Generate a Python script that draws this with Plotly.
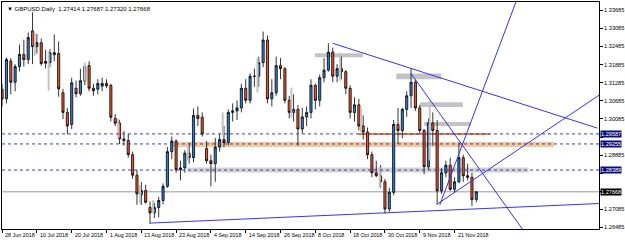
import plotly.graph_objects as go
import pandas as pd

dates = pd.bdate_range("2018-06-28", "2018-11-28")

opens = [1.3107,1.3075,1.3200,1.3130,1.3182,1.3222,1.3205,1.3300,1.3248,1.3261,
         1.3199,1.3195,1.3221,1.3225,1.3095,1.3030,1.2990,1.3110,1.3092,1.3135,
         1.3185,1.3110,1.3107,1.3117,1.3126,1.3120,1.3010,1.2995,1.2942,1.2937,
         1.2890,1.2822,1.2757,1.2771,1.2715,1.2697,1.2715,1.2738,1.2785,1.2900,
         1.2935,1.2840,1.2846,1.2895,1.2880,1.3020,1.3014,1.2910,1.2870,1.2860,
         1.2915,1.2940,1.2930,1.3030,1.3035,1.3045,1.3110,1.3070,1.3150,1.3150,
         1.3195,1.3270,1.3075,1.3095,1.3185,1.3175,1.3070,1.3030,1.3040,1.2975,
         1.3015,1.3030,1.3120,1.3070,1.3145,1.3170,1.3230,1.3150,1.3175,1.3165,
         1.3110,1.3030,1.3055,1.2985,1.2965,1.2890,1.2830,1.2820,1.2800,1.2710,
         1.2765,1.2990,1.2970,1.3040,1.3085,1.3130,1.3045,1.2970,1.2850,1.2995,
         1.2970,1.2770,1.2830,1.2855,1.2775,1.2800,1.2880,1.2820,1.2815,1.27414]
highs = [1.3125,1.3212,1.3210,1.3190,1.3255,1.3271,1.3295,1.3362,1.3290,1.3275,
         1.3238,1.3240,1.3288,1.3265,1.3108,1.3045,1.3145,1.3135,1.3175,1.3190,
         1.3200,1.3125,1.3140,1.3145,1.3140,1.3125,1.3025,1.3005,1.2968,1.2960,
         1.2900,1.2840,1.2800,1.2790,1.2735,1.2730,1.2750,1.2795,1.2915,1.2950,
         1.2940,1.2870,1.2905,1.2930,1.3043,1.3050,1.3030,1.2935,1.2890,1.2945,
         1.2960,1.2985,1.3040,1.3060,1.3070,1.3125,1.3140,1.3160,1.3175,1.3215,
         1.3298,1.3285,1.3140,1.3215,1.3210,1.3180,1.3085,1.3090,1.3055,1.3045,
         1.3050,1.3140,1.3125,1.3155,1.3210,1.3259,1.3245,1.3190,1.3215,1.3170,
         1.3120,1.3080,1.3075,1.3020,1.2980,1.2900,1.2870,1.2855,1.2810,1.2780,
         1.3005,1.3045,1.3045,1.3100,1.3175,1.3140,1.3055,1.2975,1.3010,1.3030,
         1.3005,1.2845,1.2870,1.2880,1.2815,1.2930,1.2890,1.2860,1.2830,1.27687]
lows = [1.3050,1.3060,1.3090,1.3100,1.3166,1.3182,1.3190,1.3190,1.3225,1.3185,
        1.3176,1.3180,1.3200,1.3082,1.3008,1.2957,1.2975,1.3080,1.3085,1.3120,
        1.3100,1.3085,1.3090,1.3100,1.3110,1.3000,1.2985,1.2925,1.2920,1.2880,
        1.2810,1.2724,1.2723,1.2728,1.2662,1.2680,1.2682,1.2725,1.2780,1.2875,
        1.2830,1.2805,1.2830,1.2860,1.2865,1.2985,1.2950,1.2860,1.2785,1.2800,
        1.2900,1.2915,1.2920,1.3000,1.3005,1.3030,1.3060,1.3060,1.3115,1.3115,
        1.3180,1.3060,1.3050,1.3085,1.3140,1.3060,1.3010,1.3000,1.2920,1.2960,
        1.2985,1.3010,1.3040,1.3050,1.3130,1.3165,1.3130,1.3130,1.3140,1.3090,
        1.3010,1.3000,1.2970,1.2940,1.2875,1.2815,1.2815,1.2780,1.2695,1.2700,
        1.2755,1.2925,1.2945,1.3015,1.3045,1.3035,1.2960,1.2825,1.2840,1.2920,
        1.2723,1.2760,1.2815,1.2770,1.2765,1.2795,1.2800,1.2805,1.2720,1.27320]
closes = [1.3075,1.3205,1.3130,1.3182,1.3222,1.3205,1.3278,1.3248,1.3261,1.3192,
          1.3193,1.3228,1.3228,1.3108,1.3030,1.2985,1.3128,1.3092,1.3135,1.3182,
          1.3110,1.3102,1.3126,1.3126,1.3118,1.3014,1.2994,1.2942,1.2937,1.2890,
          1.2822,1.2760,1.2771,1.2732,1.2697,1.2715,1.2738,1.2785,1.2900,1.2935,
          1.2840,1.2846,1.2895,1.2880,1.3020,1.3010,1.2958,1.2870,1.2860,1.2915,
          1.2940,1.2930,1.3030,1.3035,1.3045,1.3110,1.3070,1.3150,1.3150,1.3195,
          1.3270,1.3075,1.3095,1.3185,1.3175,1.3070,1.3030,1.3040,1.2975,1.3015,
          1.3030,1.3120,1.3070,1.3145,1.3170,1.3230,1.3150,1.3175,1.3165,1.3110,
          1.3030,1.3055,1.2985,1.2965,1.2890,1.2830,1.2820,1.2800,1.2710,1.2765,
          1.2990,1.2970,1.3040,1.3085,1.3130,1.3045,1.2970,1.2850,1.2995,1.2970,
          1.2770,1.2830,1.2855,1.2775,1.2800,1.2880,1.2820,1.2815,1.2741,1.27668]

# light-grey overlay bars: (bar, low, high)
ghost_bar = [7.8, 11.0, 19.3, 27.0, 32.0, 35.0, 43.0, 51.0, 59.0, 66.8, 78.0, 82.8, 87.1, 98.6]
ghost_low = [1.3218, 1.3102, 1.3135, 1.2944, 1.2729, 1.2696, 1.2871, 1.2954, 1.3096,
             1.3013, 1.3135, 1.2964, 1.2782, 1.2871]
ghost_high = [1.3294, 1.3234, 1.3195, 1.3010, 1.2789, 1.2739, 1.2927, 1.3030, 1.3211,
              1.3112, 1.3228, 1.3043, 1.2848, 1.3069]

header = "\u25BC GBPUSD.Daily  1.27414 1.27687 1.27320 1.27668"
date_label_bars = [0, 8, 16, 24, 32, 40, 48, 56, 64, 72, 80, 88, 96, 104]
price_ticks = [1.26485, 1.27085, 1.27685, 1.28285, 1.28885, 1.29485, 1.30085,
               1.30685, 1.31285, 1.31885, 1.32485, 1.33085, 1.33685]
hidden_ticks = [1.27685, 1.28285, 1.29485]   # covered by the level boxes

levels = [1.29587, 1.29255, 1.28389]
current_price = 1.27668

zones = [
    (38.9, 126.9, 1.29155, 1.29320, "rgba(240,170,100,0.65)"),
    (81.9, 112.0, 1.29555, 1.29615, "rgba(240,120,40,0.95)"),
    (42.6, 121.0, 1.28305, 1.28470, "rgba(180,180,180,0.6)"),
    (71.9, 82.9, 1.32130, 1.32260, "rgba(170,170,170,0.7)"),
    (90.6, 100.9, 1.31400, 1.31590, "rgba(170,170,170,0.7)"),
    (96.1, 105.9, 1.30480, 1.30640, "rgba(170,170,170,0.7)"),
    (97.0, 107.7, 1.29850, 1.29980, "rgba(170,170,170,0.7)"),
]
trend_lines = [
    (76.0, 1.3259, 136.8, 1.2978),
    (100.6, 1.2723, 118.1, 1.3396),
    (94.0, 1.3159, 119.6, 1.2643),
    (100.2, 1.2728, 137.2, 1.3087),
    (33.9, 1.2663, 137.2, 1.2728),
]

idx = list(range(len(opens)))
FONT = "Liberation Sans"

fig = go.Figure()
gx, gy = [], []
for b, lo, hi in zip(ghost_bar, ghost_low, ghost_high):
    gx += [b - 0.3, b - 0.3, None]
    gy += [lo, hi, None]
fig.add_trace(go.Scatter(x=gx, y=gy, mode="lines", line=dict(color="#C4C4C4", width=2),
                         hoverinfo="skip", showlegend=False))
fig.add_trace(go.Candlestick(
    x=idx, open=opens, high=highs, low=lows, close=closes,
    increasing=dict(line=dict(color="black", width=0.8), fillcolor="#2B7FD6"),
    decreasing=dict(line=dict(color="black", width=0.8), fillcolor="#F4502A"),
    whiskerwidth=0, hoverinfo="skip", showlegend=False))

shapes = []
for b0, b1, p0, p1, col in zones:
    shapes.append(dict(type="rect", xref="x", yref="y", x0=b0, x1=b1, y0=p0, y1=p1,
                       fillcolor=col, line=dict(width=0), layer="below"))
for lv in levels:
    shapes.append(dict(type="line", xref="paper", yref="y", x0=0, x1=1, y0=lv, y1=lv,
                       line=dict(color="#3A3AC8", width=1, dash="dot"), layer="above"))
shapes.append(dict(type="line", xref="paper", yref="y", x0=0, x1=1,
                   y0=current_price, y1=current_price,
                   line=dict(color="#9A9A9A", width=1), layer="below"))
for b0, p0, b1, p1 in trend_lines:
    shapes.append(dict(type="line", xref="x", yref="y", x0=b0, x1=b1, y0=p0, y1=p1,
                       line=dict(color="#3434F0", width=1), layer="above"))

annotations = [dict(text=header, xref="paper", yref="paper", x=0, y=1, xanchor="left",
                    yanchor="top", xshift=3, yshift=-2, showarrow=False,
                    font=dict(family=FONT, size=6, color="black"))]
for b in date_label_bars:
    d = dates[b]
    annotations.append(dict(text=f"{d.day} {d.strftime('%b %Y')}", xref="x", yref="paper",
                            x=b, y=0, xanchor="left", yanchor="top", xshift=1, yshift=-1,
                            showarrow=False, font=dict(family=FONT, size=5.4, color="black")))
for lv in levels:
    annotations.append(dict(text=f"{lv:.5f}", xref="paper", yref="y", x=1, y=lv,
                            xanchor="left", yanchor="middle", xshift=1, showarrow=False,
                            bgcolor="#0C0C7A", borderpad=0,
                            font=dict(family=FONT, size=5.6, color="white")))
annotations.append(dict(text=f"{current_price:.5f}", xref="paper", yref="y", x=1,
                        y=current_price, xanchor="left", yanchor="middle", xshift=1,
                        showarrow=False, bgcolor="#000000", borderpad=0,
                        font=dict(family=FONT, size=5.6, color="white")))

fig.update_layout(
    width=625, height=240, margin=dict(l=2, r=23, t=1, b=11),
    paper_bgcolor="white", plot_bgcolor="white",
    shapes=shapes, annotations=annotations, showlegend=False,
    xaxis=dict(range=[-0.02, 137.2], rangeslider=dict(visible=False),
               showgrid=False, zeroline=False, showline=True, linecolor="black",
               linewidth=1, mirror=True, tickmode="array", tickvals=date_label_bars,
               ticks="outside", ticklen=3, tickcolor="black", showticklabels=False),
    yaxis=dict(range=[1.264355, 1.339595], side="right", showgrid=False, zeroline=False,
               showline=True, linecolor="black", linewidth=1, mirror=True,
               tickmode="array", tickvals=price_ticks,
               ticktext=["" if t in hidden_ticks else f"{t:.5f}" for t in price_ticks],
               ticks="outside", ticklen=3, tickcolor="black",
               tickfont=dict(family=FONT, size=5.6, color="black")),
)

fig.write_html("out.html")
